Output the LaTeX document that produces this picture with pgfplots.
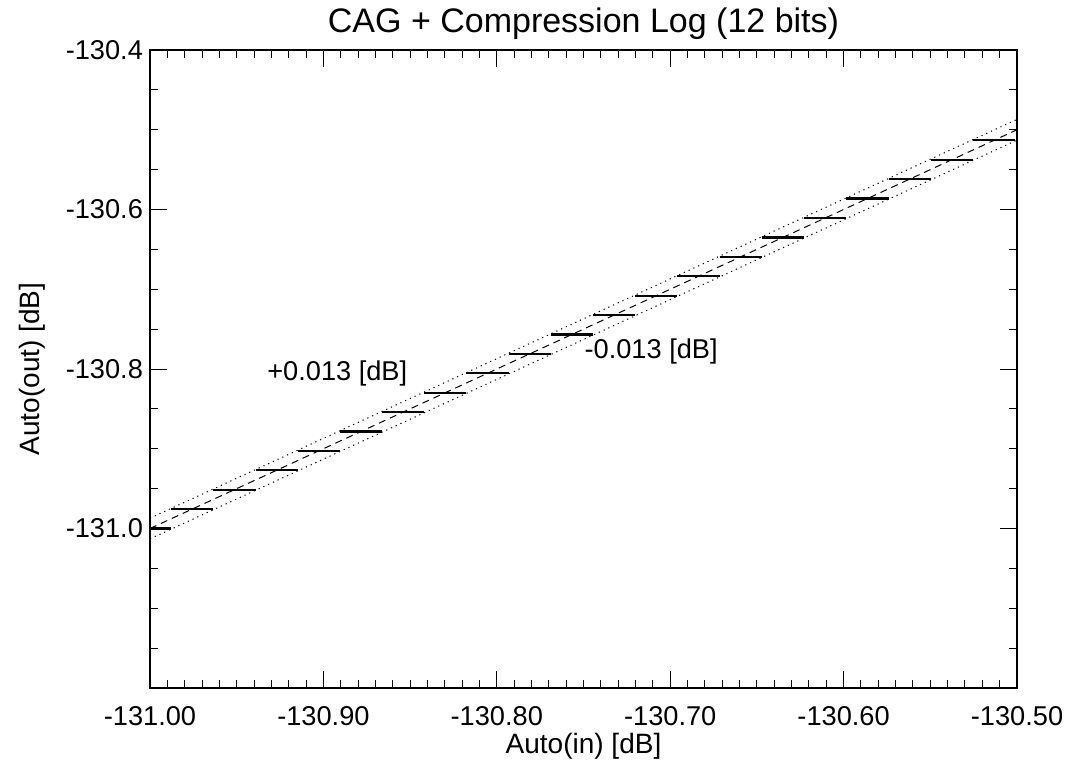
\documentclass[border=0pt]{standalone}
\usepackage{pgfplots}
\pgfplotsset{compat=1.18}
\usepackage{fontspec}
\setmainfont{Liberation Sans}
\begin{document}
\begin{tikzpicture}
\begin{axis}[
  name=ax,
  scale only axis, width=433.5pt, height=319pt,
  xmin=-131.0, xmax=-130.5, ymin=-131.2, ymax=-130.4,
  xtick={-131.0,-130.9,-130.8,-130.7,-130.6,-130.5},
  ytick={-131.0,-130.8,-130.6,-130.4},
  minor xtick={-130.99,-130.98,-130.97,-130.96,-130.95,-130.94,-130.93,-130.92,-130.91,
    -130.89,-130.88,-130.87,-130.86,-130.85,-130.84,-130.83,-130.82,-130.81,
    -130.79,-130.78,-130.77,-130.76,-130.75,-130.74,-130.73,-130.72,-130.71,
    -130.69,-130.68,-130.67,-130.66,-130.65,-130.64,-130.63,-130.62,-130.61,
    -130.59,-130.58,-130.57,-130.56,-130.55,-130.54,-130.53,-130.52,-130.51},
  minor ytick={-131.15,-131.1,-131.05,-130.95,-130.9,-130.85,-130.75,-130.7,-130.65,-130.55,-130.5,-130.45},
  xticklabel style={/pgf/number format/fixed,/pgf/number format/fixed zerofill,/pgf/number format/precision=2,/pgf/number format/1000 sep={},yshift=-5.5pt},
  yticklabel style={/pgf/number format/fixed,/pgf/number format/fixed zerofill,/pgf/number format/precision=1,/pgf/number format/1000 sep={}},
  /pgf/number format/assume math mode=true,
  scaled ticks=false,
  tick align=inside,
  major tick length=8.5pt, minor tick length=4pt,
  tick style={black, line width=0.5pt},
  axis line style={line width=0.6pt},
  ticklabel style={font=\fontsize{13.6}{15}\selectfont},
  label style={font=\fontsize{14}{16}\selectfont},
  xlabel={Auto(in) [dB]},
  ylabel={Auto(out) [dB]},
  xlabel style={yshift=3pt},
  ylabel style={yshift=3.25pt},
  title={CAG + Compression Log (12 bits)},
  title style={font=\fontsize{17}{19}\selectfont, yshift=-4.5pt},
  unbounded coords=jump,
  clip=true,
]
% quantized output steps
\addplot[black, line width=1.1pt] coordinates {
(-131.0122,-131.0000) (-130.9878,-131.0000) (-130.98,nan)
(-130.9878,-130.9757) (-130.9635,-130.9757) (-130.96,nan)
(-130.9635,-130.9513) (-130.9391,-130.9513) (-130.93,nan)
(-130.9391,-130.9270) (-130.9148,-130.9270) (-130.91,nan)
(-130.9148,-130.9027) (-130.8905,-130.9027) (-130.89,nan)
(-130.8905,-130.8783) (-130.8661,-130.8783) (-130.86,nan)
(-130.8661,-130.8540) (-130.8418,-130.8540) (-130.84,nan)
(-130.8418,-130.8297) (-130.8175,-130.8297) (-130.81,nan)
(-130.8175,-130.8053) (-130.7931,-130.8053) (-130.79,nan)
(-130.7931,-130.7810) (-130.7688,-130.7810) (-130.76,nan)
(-130.7688,-130.7567) (-130.7445,-130.7567) (-130.74,nan)
(-130.7445,-130.7323) (-130.7201,-130.7323) (-130.72,nan)
(-130.7201,-130.7080) (-130.6958,-130.7080) (-130.69,nan)
(-130.6958,-130.6837) (-130.6715,-130.6837) (-130.67,nan)
(-130.6715,-130.6593) (-130.6471,-130.6593) (-130.64,nan)
(-130.6471,-130.6350) (-130.6228,-130.6350) (-130.62,nan)
(-130.6228,-130.6107) (-130.5985,-130.6107) (-130.59,nan)
(-130.5985,-130.5863) (-130.5741,-130.5863) (-130.57,nan)
(-130.5741,-130.5620) (-130.5498,-130.5620) (-130.54,nan)
(-130.5498,-130.5377) (-130.5255,-130.5377) (-130.52,nan)
(-130.5255,-130.5133) (-130.5012,-130.5133)
};
% ideal line
\addplot[black, line width=0.5pt, dash pattern=on 3.5pt off 2.5pt] coordinates {(-131.0,-131.0) (-130.5,-130.5)};
% tolerance lines
\addplot[black, line width=0.5pt, dash pattern=on 0.6pt off 2pt] coordinates {(-131.0,-130.987) (-130.5,-130.487)};
\addplot[black, line width=0.5pt, dash pattern=on 0.6pt off 2pt] coordinates {(-131.0,-131.013) (-130.5,-130.513)};
\node[font=\fontsize{13.6}{15}\selectfont] at (axis cs:-130.892,-130.806) {+0.013 [dB]};
\node[font=\fontsize{13.6}{15}\selectfont] at (axis cs:-130.711,-130.778) {-0.013 [dB]};
\end{axis}
\pgfresetboundingbox
\path ([shift={(-75pt,-37.5pt)}]ax.south west) rectangle ([shift={(24.5pt,25pt)}]ax.north east);
\end{tikzpicture}
\end{document}
